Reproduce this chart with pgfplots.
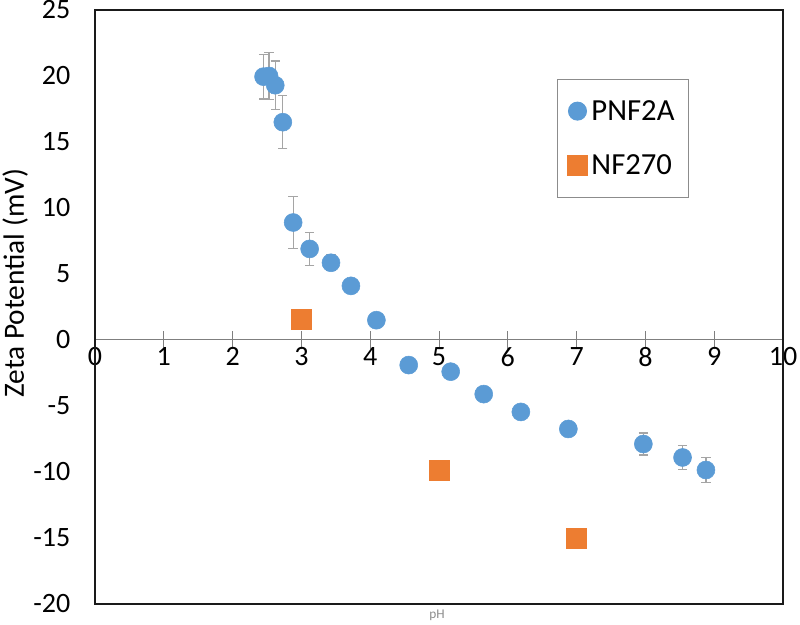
\documentclass[border=0pt]{standalone}
\usepackage{pgfplots}
\pgfplotsset{compat=1.18}
\usepackage{fontspec}
\setmainfont{Carlito}

\definecolor{pnfblue}{HTML}{5B9BD5}
\definecolor{nforange}{HTML}{ED7D31}
\definecolor{errgray}{HTML}{A5A5A5}
\definecolor{framegray}{HTML}{1A1A1A}
\definecolor{axisgray}{HTML}{7F7F7F}
\definecolor{legendgray}{HTML}{8C8C8C}

\newcommand{\chartfont}{\fontsize{21}{25}\selectfont}

\begin{document}
\begin{tikzpicture}
\begin{axis}[
  name=ax,
  width=516pt, height=445.5pt, scale only axis,
  xmin=0, xmax=10, ymin=-20, ymax=25,
  axis x line*=middle,
  axis y line*=left,
  hide obscured x ticks=false,
  x axis line style={color=axisgray, line width=0.75pt},
  y axis line style={draw=none},
  xtick={0,1,...,10},
  xticklabels={0,1,2,3,4,5,6,7,8,9,10},
  ytick={-20,-15,...,25},
  yticklabels={-20,-15,-10,-5,0,5,10,15,20,25},
  tick align=center,
  major tick length=14pt,
  xtick style={color=axisgray, line width=0.75pt},
  ytick style={draw=none},
  ticklabel style={font=\chartfont, color=black},
  yticklabel style={xshift=-8pt},
  xticklabel style={yshift=5pt},
  xlabel={pH},
  xlabel style={at={(axis description cs:0.497,0)}, anchor=north, yshift=-1pt,
    font=\fontsize{10}{12}\selectfont, color=legendgray},
  ylabel={Zeta Potential (mV)},
  ylabel style={at={(axis description cs:-0.116,0.54)}, anchor=center,
    font=\fontsize{22}{26}\selectfont},
  legend style={at={(0.6715,0.8838)}, anchor=north west, draw=legendgray,
    line width=0.75pt, font=\fontsize{23}{27}\selectfont, row sep=20.5pt,
    inner xsep=7.5pt, inner ysep=13.5pt, nodes={inner xsep=3pt}},
  legend cell align=left,
  clip=false,
  after end axis/.code={
    \draw[line width=2pt, color=framegray] (rel axis cs:0,0) rectangle (rel axis cs:1,1);
  },
]
% error bars first so the circles cover them
\addplot[only marks, mark=none, forget plot,
  error bars/.cd, y dir=both, y explicit,
  error bar style={color=errgray, line width=0.9pt},
  error mark options={rotate=90, color=errgray, mark size=3.5pt, line width=0.9pt}]
coordinates {
  (2.45,19.95) +- (0,1.7)
  (2.53,20.0) +- (0,1.8)
  (2.62,19.3) +- (0,1.83)
  (2.73,16.5) +- (0,2.0)
  (2.88,8.9) +- (0,1.95)
  (3.12,6.9) +- (0,1.25)
  (3.43,5.85) +- (0,0.6)
  (7.97,-7.88) +- (0,0.83)
  (8.54,-8.9) +- (0,0.93)
  (8.88,-9.85) +- (0,0.95)
};
\addplot[only marks, mark=*, mark size=6.75pt, color=pnfblue, mark options={fill=pnfblue, draw=none}]
coordinates {
  (2.45,19.95) (2.53,20.0) (2.62,19.3) (2.73,16.5)
  (2.88,8.9) (3.12,6.9) (3.43,5.85) (3.72,4.1) (4.09,1.5)
  (4.56,-1.9) (5.17,-2.4) (5.65,-4.1) (6.19,-5.45) (6.88,-6.74)
  (7.97,-7.88) (8.54,-8.9) (8.88,-9.85)
};
\addlegendentry{PNF2A}
\addplot[only marks, mark=square*, mark size=7.5pt, color=nforange, mark options={fill=nforange, draw=none}]
coordinates {
  (3,1.6) (5,-9.9) (7,-15.0)
};
\addlegendentry{NF270}
\end{axis}
\pgfresetboundingbox
\path[use as bounding box] ([xshift=-71.25pt,yshift=-15.75pt]ax.south west)
  rectangle ([xshift=12.75pt,yshift=7.5pt]ax.north east);
\end{tikzpicture}
\end{document}
